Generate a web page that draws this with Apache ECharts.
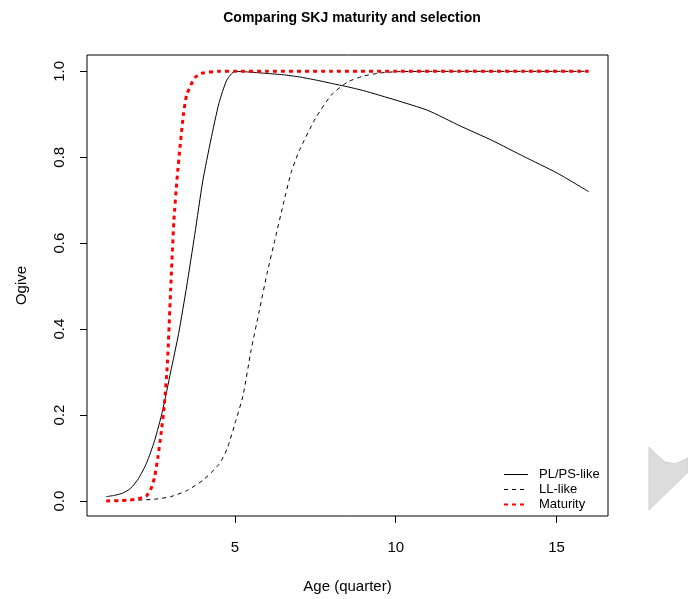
<!DOCTYPE html>
<html>
<head>
<meta charset="utf-8">
<script src="https://cdn.jsdelivr.net/npm/echarts@6/dist/echarts.min.js"></script>
<style>
	html, body { margin: 0; padding: 0; background: #fff; }
	#container { width: 688px; height: 599px; }
</style>
</head>
<body>
<div id="container"></div>
<script>
	// 数据
	var plAge = [1, 1.25, 1.5, 1.75, 2, 2.25, 2.5, 2.75, 3, 3.25, 3.5, 3.75, 4, 4.25, 4.5, 4.75, 5, 5.5, 6, 6.5, 7, 7.5, 8, 8.5, 9, 10, 11, 12, 13, 14, 15, 16];
	var plSel = [0.010, 0.013, 0.018, 0.029, 0.052, 0.088, 0.14, 0.21, 0.30, 0.39, 0.50, 0.62, 0.745, 0.84, 0.925, 0.98, 1.0, 0.998, 0.995, 0.992, 0.987, 0.980, 0.972, 0.964, 0.955, 0.933, 0.909, 0.873, 0.839, 0.801, 0.764, 0.72];

	var llAge = [1, 1.5, 2, 2.5, 3, 3.5, 4, 4.5, 4.75, 5, 5.25, 5.5, 5.75, 6, 6.25, 6.5, 6.75, 7, 7.5, 8, 8.5, 9, 9.5, 10, 11, 12, 13, 14, 15, 16];
	var llSel = [0.001, 0.001, 0.002, 0.004, 0.010, 0.024, 0.048, 0.085, 0.12, 0.18, 0.245, 0.35, 0.44, 0.53, 0.61, 0.69, 0.765, 0.815, 0.89, 0.945, 0.975, 0.989, 0.996, 0.999, 1, 1, 1, 1, 1, 1];

	var matAge = [1, 1.5, 1.75, 2, 2.25, 2.4, 2.5, 2.6, 2.7, 2.8, 2.9, 3, 3.1, 3.2, 3.3, 3.4, 3.5, 3.75, 4, 4.5, 5, 6, 8, 10, 12, 14, 16];
	var maturity = [0, 0.001, 0.002, 0.005, 0.012, 0.03, 0.055, 0.10, 0.155, 0.22, 0.32, 0.49, 0.65, 0.75, 0.83, 0.90, 0.945, 0.985, 0.996, 1, 1, 1, 1, 1, 1, 1, 1];

	var xTicks = [5, 10, 15];
	var yTicks = [0, 0.2, 0.4, 0.6, 0.8, 1.0];
	var legendNames = ['PL/PS-like', 'LL-like', 'Maturity'];

	function zip(xs, ys){
		var out = [];
		for (var i = 0; i < xs.length; i++) out.push([xs[i], ys[i]]);
		return out;
	}

	var font = 'Liberation Sans, Arial, Helvetica, sans-serif';
	var myChart = echarts.init(document.getElementById('container'), null, {renderer: 'canvas'});
	var option = {
		backgroundColor: '#fff',
		animation: false,
		title: {
			text: 'Comparing SKJ maturity and selection',
			left: 347,
			textAlign: 'center',
			top: 6,
			textStyle: { fontFamily: font, fontSize: 14, fontWeight: 'bold', color: '#000' }
		},
		legend: {
			data: [
				{ name: legendNames[0] },
				{ name: legendNames[1] },
				{ name: legendNames[2], lineStyle: { width: 2 } }
			],
			orient: 'vertical',
			left: 503,
			top: 467,
			padding: 0,
			itemWidth: 24,
			itemHeight: 10,
			itemGap: 0,
			itemStyle: { opacity: 0 },
			lineStyle: { width: 1 },
			textStyle: { fontFamily: font, fontSize: 13, lineHeight: 15, color: '#000', padding: [0, 0, 0, 6] }
		},
		grid: {
			left: 87,
			right: 80,
			top: 55,
			bottom: 81,
			show: true,
			borderColor: '#000',
			borderWidth: 1,
			containLabel: false
		},
		xAxis: {
			type: 'value',
			min: 0.4,
			max: 16.6,
			name: 'Age (quarter)',
			nameLocation: 'middle',
			nameGap: 63,
			nameTextStyle: { fontFamily: font, fontSize: 15, color: '#000' },
			axisLine: { show: false, onZero: false },
			splitLine: { show: false },
			axisTick: { show: true, length: 7, customValues: xTicks, lineStyle: { color: '#000' } },
			axisLabel: { customValues: xTicks, margin: 24, fontFamily: font, fontSize: 15, color: '#000' }
		},
		yAxis: {
			type: 'value',
			min: -0.035,
			max: 1.038,
			name: 'Ogive',
			nameLocation: 'middle',
			nameGap: 58,
			nameTextStyle: { fontFamily: font, fontSize: 15, color: '#000' },
			axisLine: { show: false, onZero: false },
			splitLine: { show: false },
			axisTick: { show: true, length: 7, customValues: yTicks, lineStyle: { color: '#000' } },
			axisLabel: {
				customValues: yTicks,
				rotate: 90,
				margin: 20,
				fontFamily: font, fontSize: 15, color: '#000',
				formatter: function(v){ return v.toFixed(1); }
			}
		},
		series: [{
			name: legendNames[0],
			type: 'line',
			data: zip(plAge, plSel),
			symbol: 'none',
			smooth: 0.2,
			lineStyle: { color: '#000', width: 1, type: 'solid' },
			itemStyle: { color: '#000' },
			z: 2
		}, {
			name: legendNames[1],
			type: 'line',
			data: zip(llAge, llSel),
			symbol: 'none',
			smooth: 0.2,
			lineStyle: { color: '#000', width: 1, type: [4, 4] },
			itemStyle: { color: '#000' },
			z: 2
		}, {
			name: legendNames[2],
			type: 'line',
			data: zip(matAge, maturity),
			symbol: 'none',
			smooth: 0.2,
			lineStyle: { color: '#ff0000', width: 3, type: [4, 4] },
			itemStyle: { color: '#ff0000' },
			z: 3
		}],
		graphic: [{
			// 右侧灰色残影
			type: 'polygon',
			shape: { points: [[649, 447], [657, 455], [665, 462], [675, 464], [682, 461], [688, 458], [688, 472], [649, 510]] },
			style: { fill: '#dcdcdc', stroke: '#d0d0d0', lineWidth: 1 },
			silent: true
		}]
	};
	myChart.setOption(option);
</script>
</body>
</html>
